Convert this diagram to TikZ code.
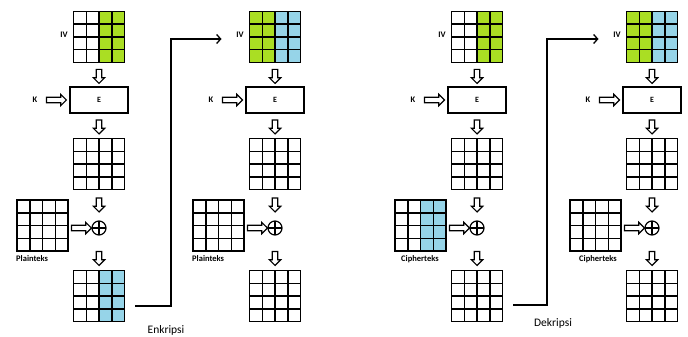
\documentclass[tikz,border=0pt]{standalone}
\usepackage{fontspec}
\setmainfont{Carlito}
\usetikzlibrary{calc,shapes.arrows,arrows.meta}

\definecolor{ivgreen}{RGB}{170,222,35}
\definecolor{cblue}{RGB}{150,212,232}

\tikzset{
  % 4x4 block; #1 = fill of the left two columns, #2 = fill of the right two
  block/.style 2 args={draw, line width=1.5pt, minimum size=51pt, inner sep=0pt, outer sep=0pt,
    path picture={
      \coordinate (sw) at (path picture bounding box.south west);
      \coordinate (ne) at (path picture bounding box.north east);
      \fill[#1] (sw) rectangle ($(sw |- ne)!0.5!(ne)$);
      \fill[#2] ($(sw)!0.5!(sw -| ne)$) rectangle (ne);
      \foreach \k in {0.25,0.5,0.75} {
        \draw[line width=1.5pt] ($(sw)!\k!(sw -| ne)$) -- ($(sw |- ne)!\k!(ne)$);
        \draw[line width=1.5pt] ($(sw)!\k!(sw |- ne)$) -- ($(sw -| ne)!\k!(ne)$);
      }
    }},
  encbox/.style={draw, line width=1.3pt, minimum width=58pt, minimum height=26pt,
    inner sep=0pt, font=\bfseries\fontsize{8}{9}\selectfont},
  xorsym/.style={circle, draw, line width=1.2pt, minimum size=14pt, inner sep=0pt,
    path picture={
      \draw[line width=1.2pt] (path picture bounding box.north) -- (path picture bounding box.south);
      \draw[line width=1.2pt] (path picture bounding box.west) -- (path picture bounding box.east);
    }},
  hollow/.style={single arrow, draw, line width=1.2pt, inner sep=2.2pt,
    single arrow head extend=2.8pt, single arrow head indent=0pt, minimum height=#1},
  darr/.style={hollow=14pt, shape border rotate=270},
  rarr/.style={hollow=20pt, shape border rotate=0},
  lbl/.style={font=\bfseries\fontsize{8.5}{10}\selectfont, inner sep=0pt},
  feed/.style={line width=1.3pt, -{Straight Barb[length=4pt,width=9pt,line width=1.3pt]}},
  caption/.style={font=\fontsize{11.5}{13}\selectfont, inner sep=0pt}
}

\begin{document}
\begin{tikzpicture}[x=1pt, y=-1pt]
  \useasboundingbox (0,0) rectangle (688,337);

  % ---------- encryption, first block ----------
  \node[block={white}{ivgreen}] at (99,37) (iv1) {};
  \node[lbl] at (64,35) (ivl1) {IV};
  \node[darr] at (99,75) (a11) {};
  \node[encbox] at (99,100) (e1) {E};
  \node[lbl] at (35,100) (k1) {K};
  \node[rarr] at (55,100) (ka1) {};
  \node[darr] at (99,125.5) (a12) {};
  \node[block={white}{white}] at (99,164) (g1) {};
  \node[darr] at (99,203.5) (a13) {};
  \node[xorsym] at (99,228) (x1) {};
  \node[block={white}{white}] at (42.5,225.5) (p1) {};
  \node[rarr] at (80,228) (pa1) {};
  \node[lbl, anchor=west] at (16,259) (pl1) {Plainteks};
  \node[darr] at (99,257) (a14) {};
  \node[block={white}{cblue}] at (99,296) (o1) {};

  % ---------- encryption, second block ----------
  \node[block={ivgreen}{cblue}] at (275,37) (iv2) {};
  \node[lbl] at (240,35) (ivl2) {IV};
  \node[darr] at (275,75) (a21) {};
  \node[encbox] at (275,100) (e2) {E};
  \node[lbl] at (211,100) (k2) {K};
  \node[rarr] at (231,100) (ka2) {};
  \node[darr] at (275,125.5) (a22) {};
  \node[block={white}{white}] at (275,164) (g2) {};
  \node[darr] at (275,203.5) (a23) {};
  \node[xorsym] at (275,228) (x2) {};
  \node[block={white}{white}] at (218.5,225.5) (p2) {};
  \node[rarr] at (256,228) (pa2) {};
  \node[lbl, anchor=west] at (192,259) (pl2) {Plainteks};
  \node[darr] at (275,257) (a24) {};
  \node[block={white}{white}] at (275,296) (o2) {};

  % chaining: ciphertext block becomes the next IV half
  \coordinate (f1s) at ([xshift=10.5pt,yshift=-10pt]o1.east);
  \coordinate (f1e) at ([xshift=-28pt,yshift=-2pt]iv2.west);
  \draw[feed] (f1s) -- (f1s -| 171,0) -- (171,0 |- f1e) -- (f1e);
  \node[caption] at (166,330) (enc) {Enkripsi};

  % ---------- decryption, first block ----------
  \node[block={white}{ivgreen}] at (477,37) (iv3) {};
  \node[lbl] at (442,35) (ivl3) {IV};
  \node[darr] at (477,75) (a31) {};
  \node[encbox] at (477,100) (e3) {E};
  \node[lbl] at (413,100) (k3) {K};
  \node[rarr] at (433,100) (ka3) {};
  \node[darr] at (477,125.5) (a32) {};
  \node[block={white}{white}] at (477,164) (g3) {};
  \node[darr] at (477,203.5) (a33) {};
  \node[xorsym] at (477,228) (x3) {};
  \node[block={white}{cblue}] at (420.5,225.5) (p3) {};
  \node[rarr] at (458,228) (pa3) {};
  \node[lbl] at (420,259) (pl3) {Cipherteks};
  \node[darr] at (477,257) (a34) {};
  \node[block={white}{white}] at (477,296) (o3) {};

  % ---------- decryption, second block ----------
  \node[block={ivgreen}{cblue}] at (652,37) (iv4) {};
  \node[lbl] at (617,35) (ivl4) {IV};
  \node[darr] at (652,75) (a41) {};
  \node[encbox] at (652,100) (e4) {E};
  \node[lbl] at (588,100) (k4) {K};
  \node[rarr] at (608,100) (ka4) {};
  \node[darr] at (652,125.5) (a42) {};
  \node[block={white}{white}] at (652,164) (g4) {};
  \node[darr] at (652,203.5) (a43) {};
  \node[xorsym] at (652,228) (x4) {};
  \node[block={white}{white}] at (595.5,225.5) (p4) {};
  \node[rarr] at (633,228) (pa4) {};
  \node[lbl] at (598,259) (pl4) {Cipherteks};
  \node[darr] at (652,257) (a44) {};
  \node[block={white}{white}] at (652,296) (o4) {};

  \coordinate (f2s) at ([xshift=10.5pt,yshift=-9pt]o3.east);
  \coordinate (f2e) at ([xshift=-28pt,yshift=-2pt]iv4.west);
  \draw[feed] (f2s) -- (f2s -| 547,0) -- (547,0 |- f2e) -- (f2e);
  \node[caption] at (553,323) (dec) {Dekripsi};
\end{tikzpicture}
\end{document}
